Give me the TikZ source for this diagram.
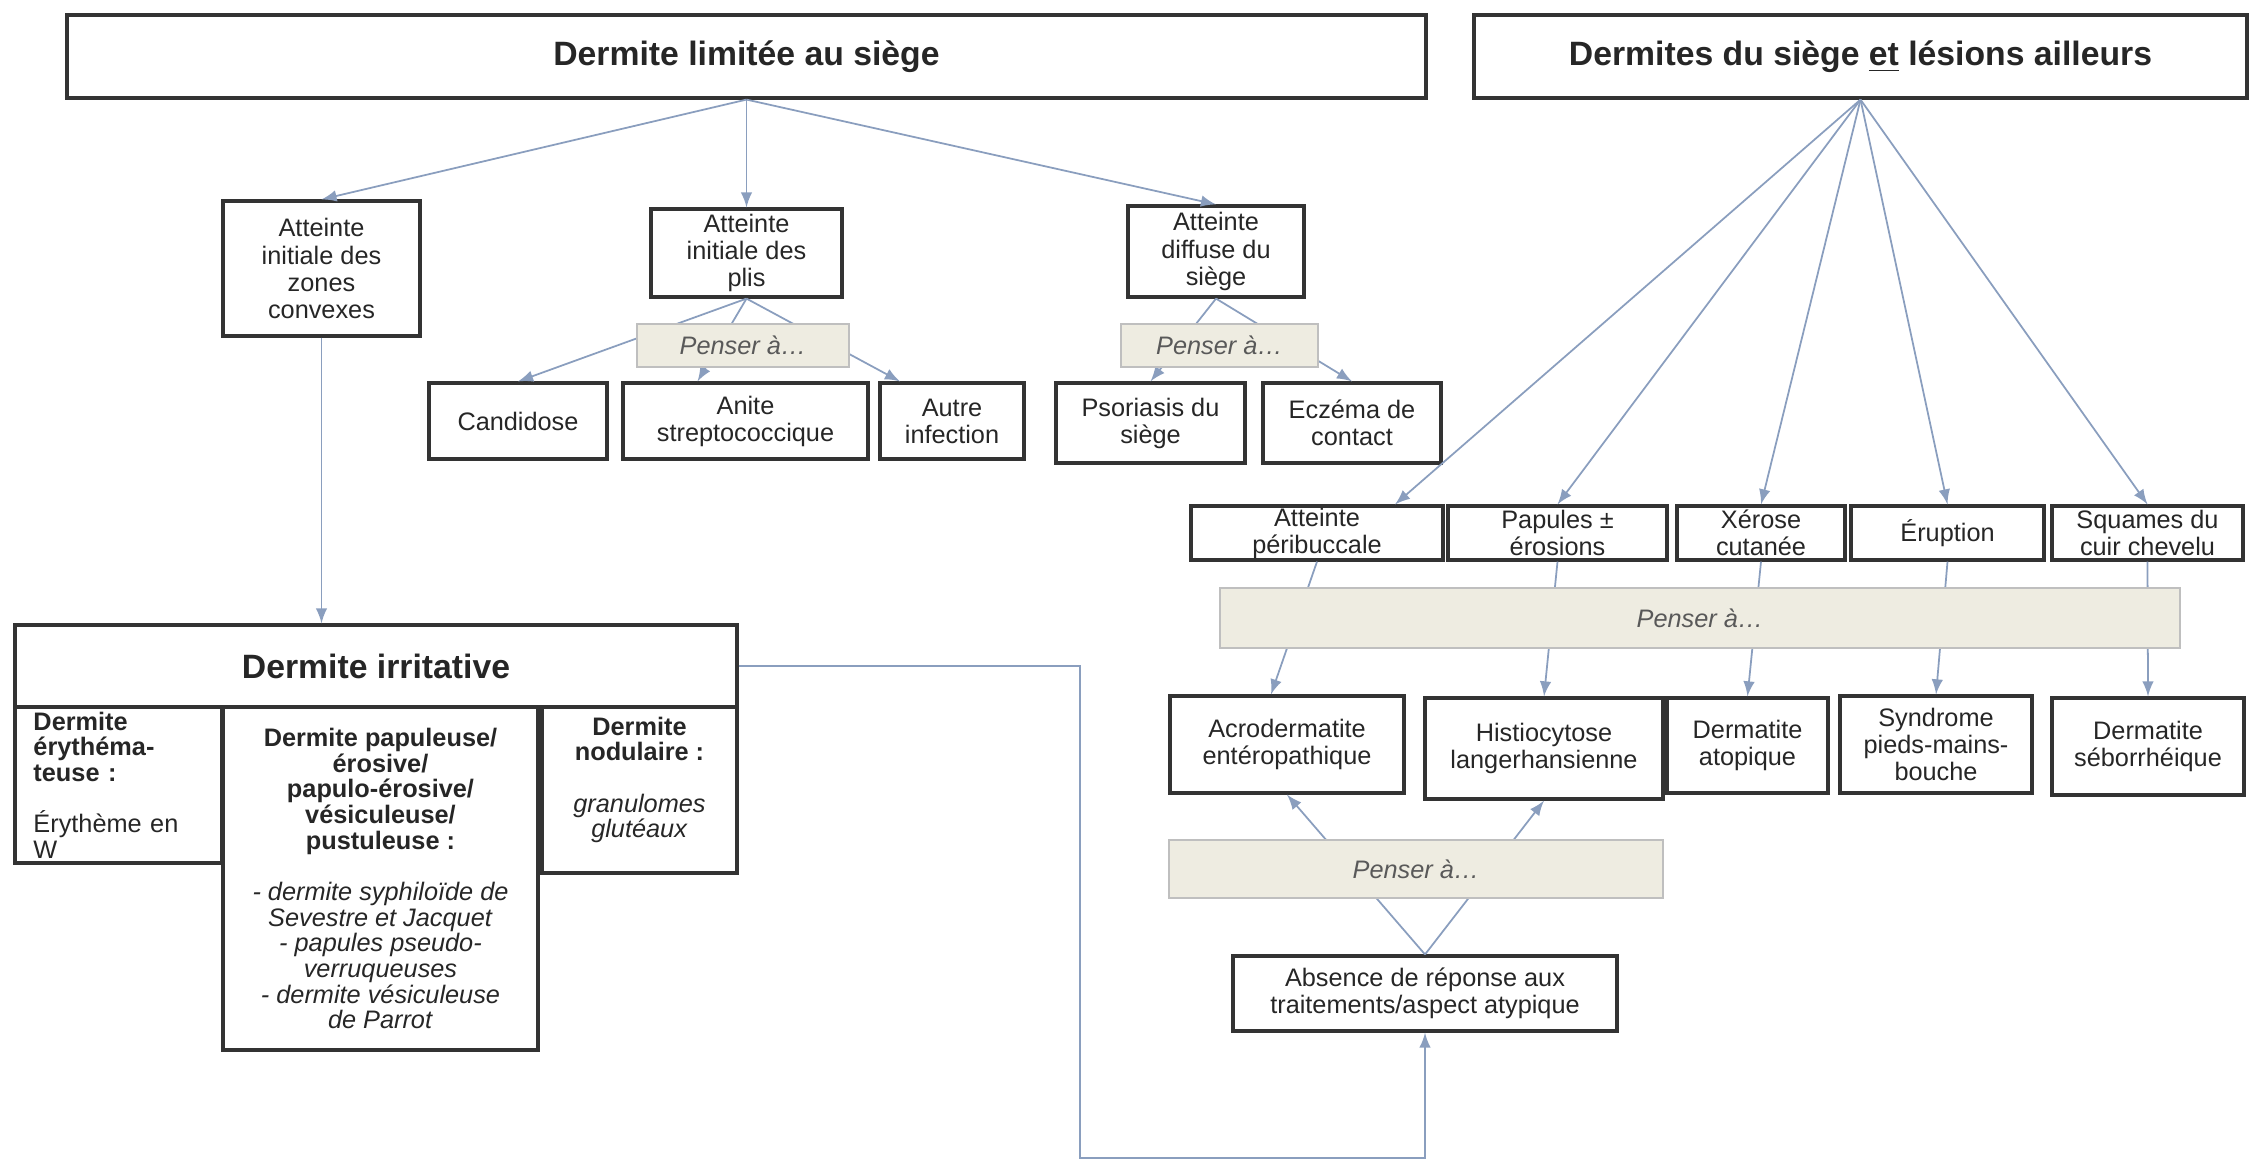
\documentclass[tikz,border=0pt]{standalone}
\usepackage{fontspec}
\setmainfont{Liberation Sans}
\usetikzlibrary{arrows}
\definecolor{lnk}{RGB}{138,158,190}
\definecolor{beige}{RGB}{238,236,225}
\newcommand{\smalltxt}{\fontsize{7.2}{7.7}\selectfont}
\newcommand{\tighttxt}{\fontsize{7.2}{7.3}\selectfont}
\newcommand{\bigtxt}{\fontsize{9.6}{11}\selectfont\bfseries}

\begin{document}
\begin{tikzpicture}
		[>=latex,
		bx/.style= {draw=black!80,line width=0.9pt,align=center,inner sep=1pt,font=\smalltxt,text=black!85},
		hd/.style= {bx,font=\bigtxt},
		sb/.style= {bx,font=\tighttxt},
		pz/.style= {draw=black!25,line width=0.8pt,fill=beige,font=\smalltxt\itshape,text=black!65},
		ar/.style= {->,draw=lnk,line width=0.5pt}]

		\useasboundingbox (0,0) rectangle (22.49,-11.62);

		\node[hd,minimum width=13.59cm,minimum height=0.83cm] (lim) at (7.465,-0.565) {Dermite limitée au siège};
		\node[hd,minimum width=7.73cm,minimum height=0.83cm] (ail) at (18.605,-0.565) {Dermites du siège \underline{et} lésions ailleurs};

		\node[bx,minimum width=1.97cm,minimum height=1.35cm] (conv) at (3.215,-2.685) {Atteinte\\initiale des\\zones\\convexes};
		\node[bx,minimum width=1.91cm,minimum height=0.88cm] (plis) at (7.465,-2.53) {Atteinte\\initiale des\\plis};
		\node[bx,minimum width=1.76cm,minimum height=0.91cm] (diff) at (12.16,-2.515) {Atteinte\\diffuse du\\siège};

		\node[bx,minimum width=1.78cm,minimum height=0.76cm] (cand) at (5.18,-4.21) {Candidose};
		\node[bx,minimum width=2.45cm,minimum height=0.76cm] (anit) at (7.455,-4.21) {Anite\\streptococcique};
		\node[bx,minimum width=1.44cm,minimum height=0.76cm] (autr) at (9.52,-4.21) {Autre\\infection};
		\node[bx,minimum width=1.89cm,minimum height=0.80cm] (psor) at (11.505,-4.23) {Psoriasis du\\siège};
		\node[bx,minimum width=1.78cm,minimum height=0.80cm] (ecze) at (13.52,-4.23) {Eczéma de\\contact};

		\node[bx,inner ysep=0pt,minimum width=2.52cm,minimum height=0.54cm] (peri) at (13.17,-5.33) {Atteinte\\péribuccale};
		\node[bx,inner ysep=0pt,minimum width=2.19cm,minimum height=0.54cm] (papu) at (15.575,-5.33) {Papules ±\\érosions};
		\node[bx,inner ysep=0pt,minimum width=1.68cm,minimum height=0.54cm] (xero) at (17.61,-5.33) {Xérose\\cutanée};
		\node[bx,inner ysep=0pt,minimum width=1.93cm,minimum height=0.54cm] (erup) at (19.475,-5.33) {Éruption};
		\node[bx,inner ysep=0pt,minimum width=1.91cm,minimum height=0.54cm] (squa) at (21.475,-5.33) {Squames du\\cuir chevelu};

		\node[bx,minimum width=2.34cm,minimum height=0.97cm] (acro) at (12.87,-7.445) {Acrodermatite\\entéropathique};
		\node[bx,minimum width=2.38cm,minimum height=1.01cm] (hist) at (15.44,-7.485) {Histiocytose\\langerhansienne};
		\node[bx,minimum width=1.61cm,minimum height=0.95cm] (atop) at (17.475,-7.455) {Dermatite\\atopique};
		\node[bx,minimum width=1.92cm,minimum height=0.97cm] (synd) at (19.36,-7.445) {Syndrome\\pieds-mains-\\bouche};
		\node[bx,minimum width=1.92cm,minimum height=0.97cm] (sebo) at (21.48,-7.465) {Dermatite\\séborrhéique};

		\node[bx,minimum width=3.84cm,minimum height=0.75cm] (absn) at (14.25,-9.935) {Absence de réponse aux\\traitements/aspect atypique};

		\node[hd,minimum width=7.22cm,minimum height=0.82cm] (irr) at (3.76,-6.66) {Dermite irritative};
		\node[sb,minimum width=2.07cm,minimum height=1.56cm,text width=1.7cm,align=left] (ery) at (1.185,-7.85)
			{\textbf{Dermite}\\\textbf{érythéma-}\\\textbf{teuse :}\\[7.3pt]Érythème en\\W};
		\node[sb,minimum width=3.15cm,minimum height=3.43cm] (pap) at (3.805,-8.785)
			{\textbf{Dermite papuleuse/}\\\textbf{érosive/}\\\textbf{papulo-érosive/}\\\textbf{vésiculeuse/}\\\textbf{pustuleuse :}\\[7.3pt]
			\textit{- dermite syphiloïde de}\\\textit{Sevestre et Jacquet}\\\textit{- papules pseudo-}\\\textit{verruqueuses}\\\textit{- dermite vésiculeuse}\\\textit{de Parrot}};
		\node[sb,minimum width=1.95cm,minimum height=1.66cm] (nod) at (6.395,-7.90)
			{\textbf{Dermite}\\\textbf{nodulaire :}\\[7.3pt]\textit{granulomes}\\\textit{glutéaux}\\\mbox{}};

		\path (lim.south) edge[ar] (conv.north) edge[ar] (plis.north) edge[ar] (diff.north);
		\path (conv.south) edge[ar] (conv.south |- irr.north);
		\path (plis.south) edge[ar] (cand.north) edge[ar] ([xshift=-4.8mm]anit.north) edge[ar] ([xshift=-5.2mm]autr.north);
		\path (diff.south) edge[ar] (psor.north) edge[ar] (ecze.north);

		\path (ail.south)
			edge[ar] ([xshift=7.8mm]peri.north)
			edge[ar] (papu.north)
			edge[ar] (xero.north)
			edge[ar] (erup.north)
			edge[ar] (squa.north);

		\path (peri.south) edge[ar] ([xshift=-1.6mm]acro.north);
		\path (papu.south) edge[ar] (hist.north);
		\path (xero.south) edge[ar] (atop.north);
		\path (erup.south) edge[ar] (synd.north);
		\path (squa.south) edge[ar] (sebo.north);
		\path (absn.north) edge[ar] (acro.south) edge[ar] (hist.south);

		\coordinate (k) at (10.80,-11.58);
		\draw[ar] (irr.east) -| (k) -| (absn.south);

		\node[pz,minimum width=2.12cm,minimum height=0.43cm] (pen1) at (7.43,-3.455) {Penser à…};
		\node[pz,minimum width=1.97cm,minimum height=0.43cm] (pen2) at (12.195,-3.455) {Penser à…};
		\node[pz,minimum width=9.6cm,minimum height=0.6cm] (pen3) at (17.0,-6.18) {Penser à…};
		\node[pz,minimum width=4.94cm,minimum height=0.58cm] (pen4) at (14.16,-8.69) {Penser à…};

	\end{tikzpicture}
\end{document}
